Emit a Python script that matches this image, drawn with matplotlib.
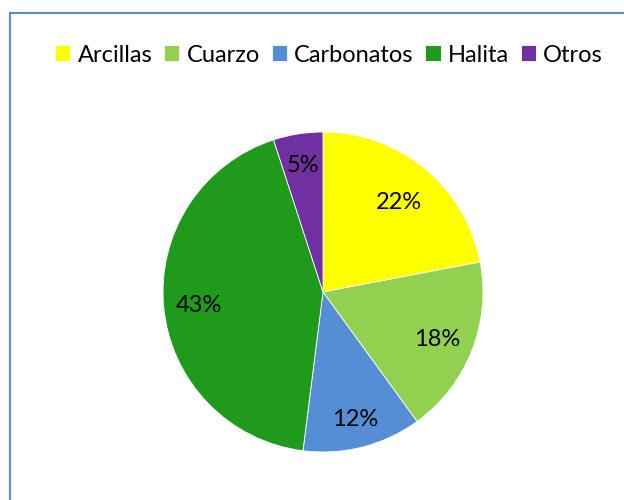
import numpy as np
import matplotlib.pyplot as plt
from matplotlib.patches import Rectangle

labels = ["Arcillas", "Cuarzo", "Carbonatos", "Halita", "Otros"]
shares = [22, 18, 12, 43, 5]
colors = ["#FFFF00", "#92D050", "#558ED5", "#1F9A1B", "#7030A0"]
label_dist = [0.74, 0.77, 0.81, 0.78, 0.81]

plt.rcParams['font.family'] = ['Lato', 'DejaVu Sans']

fig = plt.figure(figsize=(6.24, 5), dpi=100)

# frame around the chart area
fig.patches.append(Rectangle((10 / 624, -0.1), 1.2, 1 - 13 / 500 + 0.1,
                             transform=fig.transFigure, fill=False,
                             edgecolor="#5B8CD0", linewidth=1.5))

ax = fig.add_axes([(323 - 160) / 624, (500 - 292 - 160) / 500, 320 / 624, 320 / 500])
wedges, texts, autotexts = ax.pie(shares, colors=colors, startangle=90, counterclock=False,
                                  autopct="%d%%", pctdistance=1.0,
                                  wedgeprops=dict(linewidth=0.6, edgecolor="white"),
                                  textprops=dict(fontsize=17, color="black"))
# pull each percentage in toward the centre
for t, d in zip(autotexts, label_dist):
    x, y = t.get_position()
    t.set_position((x * d, y * d))
    t.set_verticalalignment("center_baseline")

ax.set_xlim(-1, 1)
ax.set_ylim(-1, 1)
ax.set_aspect("equal")

fig.legend(wedges, labels, loc="center", bbox_to_anchor=(329 / 624, 1 - 55 / 500), ncol=5,
           frameon=False, fontsize=17, handlelength=0.65, handleheight=0.65,
           handletextpad=0.3, columnspacing=0.5)

fig.savefig("out.png", dpi=100)
